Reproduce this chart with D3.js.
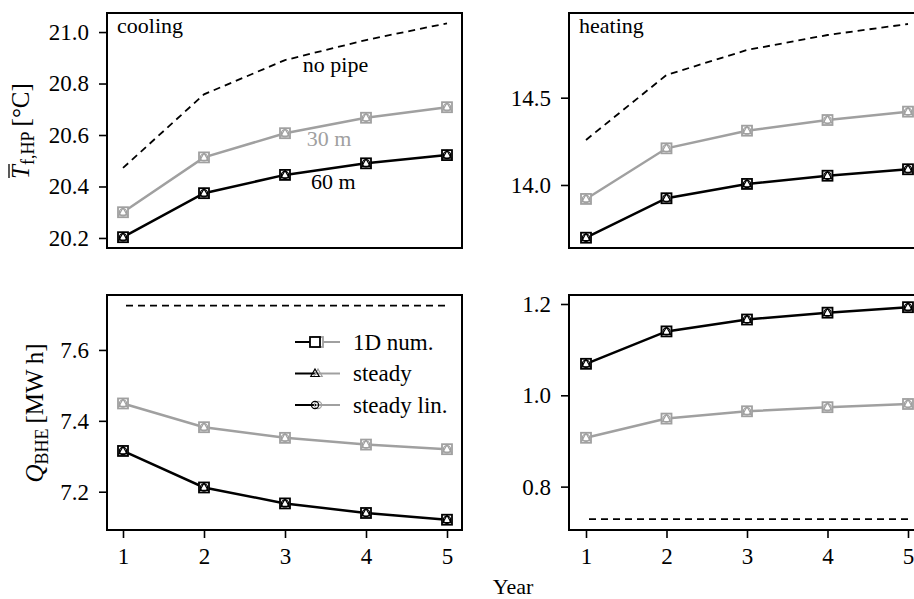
<!DOCTYPE html>
<html>
<head>
<meta charset="utf-8">
<script src="https://cdn.jsdelivr.net/npm/d3@7"></script>
<style>
  body { margin: 0; background: #fff; }
</style>
</head>
<body>
<svg id="canvas" width="914" height="599"></svg>
<script>
// data
const years = [1, 2, 3, 4, 5];

const coolTNoPipe = [20.472, 20.758, 20.891, 20.969, 21.034];
const coolT30 = [20.300, 20.513, 20.607, 20.667, 20.708];
const coolT60 = [20.203, 20.374, 20.445, 20.490, 20.522];

const heatTNoPipe = [14.258, 14.630, 14.773, 14.859, 14.922];
const heatT30 = [13.920, 14.210, 14.311, 14.372, 14.420];
const heatT60 = [13.698, 13.924, 14.006, 14.053, 14.090];

const coolQNoPipe = [7.725, 7.725, 7.725, 7.725, 7.725];
const coolQ30 = [7.449, 7.382, 7.352, 7.333, 7.320];
const coolQ60 = [7.315, 7.212, 7.167, 7.140, 7.121];

const heatQNoPipe = [0.729, 0.729, 0.729, 0.729, 0.729];
const heatQ30 = [0.907, 0.949, 0.965, 0.974, 0.981];
const heatQ60 = [1.069, 1.140, 1.166, 1.181, 1.193];

const coolTTicks = [20.2, 20.4, 20.6, 20.8, 21.0];
const heatTTicks = [14.0, 14.5];
const coolQTicks = [7.2, 7.4, 7.6];
const heatQTicks = [0.8, 1.0, 1.2];

const legendLabels = ["1D num.", "steady", "steady lin."];
const legendMarkers = ["square", "triangle", "circle"];

// annotations in data coords of the cooling temperature panel
const coolNotes = [
  { text: "no pipe", x: 3.22, y: 20.845, color: "#000" },
  { text: "30 m", x: 3.27, y: 20.557, color: "#a0a0a0" },
  { text: "60 m", x: 3.32, y: 20.390, color: "#000" }
];

const GRAY = "#a0a0a0";
const FS = 22;
const TICK_FS = 23;
const SERIF = '"Liberation Serif", "DejaVu Serif", serif';

const svg = d3.select("#canvas");

const panels = [
  { box: [107, 462, 13, 248], xr: [123, 447], dom: [20.161, 21.074], ticks: coolTTicks,
    noPipe: coolTNoPipe, s30: coolT30, s60: coolT60, xAxis: false, title: "cooling" },
  { box: [569, 925, 13, 248], xr: [586, 908], dom: [13.639, 14.985], ticks: heatTTicks,
    noPipe: heatTNoPipe, s30: heatT30, s60: heatT60, xAxis: false, title: "heating" },
  { box: [107, 462, 295, 530], xr: [123, 447], dom: [7.092, 7.755], ticks: coolQTicks,
    noPipe: coolQNoPipe, s30: coolQ30, s60: coolQ60, xAxis: true },
  { box: [569, 925, 295, 530], xr: [586, 908], dom: [0.705, 1.2197], ticks: heatQTicks,
    noPipe: heatQNoPipe, s30: heatQ30, s60: heatQ60, xAxis: true }
];

const drawMarker = (g, type, cx, cy, color) => {
  if (type === "square") {
    g.append("rect").attr("x", cx - 5).attr("y", cy - 5).attr("width", 10).attr("height", 10)
      .attr("fill", "#fff").attr("stroke", color).attr("stroke-width", 1.8);
  } else if (type === "triangle") {
    g.append("path")
      .attr("d", `M${cx},${cy - 4.5}L${cx + 4.2},${cy + 3}L${cx - 4.2},${cy + 3}Z`)
      .attr("fill", "none").attr("stroke", color).attr("stroke-width", 1.2);
  } else {
    g.append("circle").attr("cx", cx).attr("cy", cy).attr("r", 3.6)
      .attr("fill", "none").attr("stroke", color).attr("stroke-width", 1.2);
  }
};

panels.forEach((p) => {
  const [x0, x1, y0, y1] = p.box;
  const x = d3.scaleLinear().domain([1, 5]).range(p.xr);
  const y = d3.scaleLinear().domain(p.dom).range([y1, y0]);
  const g = svg.append("g");

  const line = d3.line().x((d, i) => x(years[i])).y((d) => y(d));

  // no pipe reference
  g.append("path").datum(p.noPipe).attr("d", line)
    .attr("fill", "none").attr("stroke", "#000").attr("stroke-width", 1.8)
    .attr("stroke-dasharray", "7,5")
    .attr("stroke-dashoffset", p.xAxis ? 9 : 0);

  [[p.s30, GRAY], [p.s60, "#000"]].forEach(([vals, color]) => {
    g.append("path").datum(vals).attr("d", line)
      .attr("fill", "none").attr("stroke", color).attr("stroke-width", 2.5);
    vals.forEach((v, i) => {
      legendMarkers.forEach((m) => drawMarker(g, m, x(years[i]), y(v), color));
    });
  });

  // frame
  g.append("rect").attr("x", x0).attr("y", y0).attr("width", x1 - x0).attr("height", y1 - y0)
    .attr("fill", "none").attr("stroke", "#000").attr("stroke-width", 2);

  const yAxis = g.append("g").attr("transform", `translate(${x0},0)`)
    .call(d3.axisLeft(y).tickValues(p.ticks).tickFormat(d3.format(".1f")).tickSize(8).tickPadding(10));
  yAxis.select(".domain").remove();
  yAxis.selectAll(".tick line").attr("stroke-width", 1.6);
  yAxis.selectAll("text").attr("font-size", TICK_FS).attr("fill", "#000")
    .style("font-family", SERIF);

  if (p.xAxis) {
    const xAxis = g.append("g").attr("transform", `translate(0,${y1})`)
      .call(d3.axisBottom(x).tickValues(years).tickFormat(d3.format("d")).tickSize(8).tickPadding(10));
    xAxis.select(".domain").remove();
    xAxis.selectAll(".tick line").attr("stroke-width", 1.6);
    xAxis.selectAll("text").attr("font-size", TICK_FS).attr("fill", "#000")
      .style("font-family", SERIF);
  }

  if (p.title) {
    g.append("text").attr("x", x0 + 10).attr("y", y0 + 20)
      .attr("font-size", FS).style("font-family", SERIF).text(p.title);
  }

  if (p.title === "cooling") {
    coolNotes.forEach((n) => {
      g.append("text").attr("x", x(n.x)).attr("y", y(n.y))
        .attr("font-size", FS).attr("fill", n.color).style("font-family", SERIF).text(n.text);
    });
  }
});

// legend in lower-left panel
const leg = svg.append("g");
legendLabels.forEach((lab, i) => {
  const cy = 342 + i * 31.5;
  leg.append("line").attr("x1", 295).attr("x2", 316).attr("y1", cy).attr("y2", cy)
    .attr("stroke", "#000").attr("stroke-width", 2);
  leg.append("line").attr("x1", 316).attr("x2", 340).attr("y1", cy).attr("y2", cy)
    .attr("stroke", GRAY).attr("stroke-width", 2);
  drawMarker(leg, legendMarkers[i], 318, cy, GRAY);
  drawMarker(leg, legendMarkers[i], 315, cy, "#000");
  leg.append("text").attr("x", 353).attr("y", cy).attr("dy", "0.33em")
    .attr("font-size", FS + 1).style("font-family", SERIF).text(lab);
});

// rotated y labels with overline and subscripts
const yLabel = (cx, cy, main, sub, unit) => {
  const t = svg.append("g").attr("transform", `translate(${cx},${cy}) rotate(-90)`)
    .append("text").attr("text-anchor", "middle").attr("font-size", 25)
    .style("font-family", SERIF);
  t.append("tspan").attr("font-style", "italic").text(main);
  t.append("tspan").attr("font-size", 18).attr("dy", 5).text(sub);
  t.append("tspan").attr("dy", -5).text("\u2009[" + unit + "]");
  return t;
};

const tLab = yLabel(29, 131, "T", "f,HP", "\u00B0C");
const ext = tLab.node().getExtentOfChar(0);
d3.select(tLab.node().parentNode).append("line")
  .attr("x1", ext.x + 1).attr("x2", ext.x + ext.width + 1)
  .attr("y1", ext.y + 2).attr("y2", ext.y + 2)
  .attr("stroke", "#000").attr("stroke-width", 1.3);

yLabel(43, 413, "Q", "BHE", "MW\u2009h");

svg.append("text").attr("x", 513).attr("y", 594).attr("text-anchor", "middle")
  .attr("font-size", FS).style("font-family", SERIF).text("Year");
</script>
</body>
</html>
